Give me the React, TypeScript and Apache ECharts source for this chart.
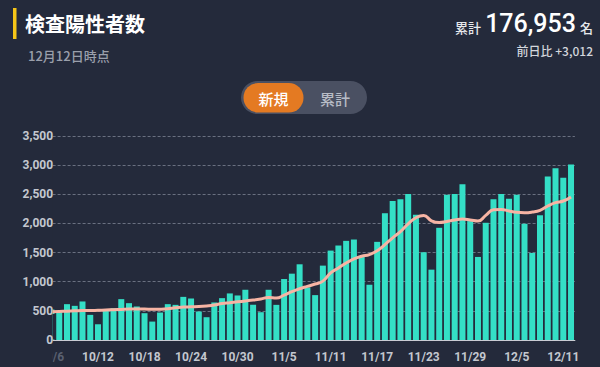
import React, { useEffect, useRef } from "react";
import * as echarts from "echarts";

const dates = [
  "10/6","10/7","10/8","10/9","10/10","10/11","10/12","10/13","10/14","10/15","10/16","10/17","10/18","10/19","10/20","10/21","10/22","10/23","10/24","10/25","10/26","10/27","10/28","10/29","10/30","10/31",
  "11/1","11/2","11/3","11/4","11/5","11/6","11/7","11/8","11/9","11/10","11/11","11/12","11/13","11/14","11/15","11/16","11/17","11/18","11/19","11/20","11/21","11/22","11/23","11/24","11/25","11/26","11/27","11/28","11/29","11/30",
  "12/1","12/2","12/3","12/4","12/5","12/6","12/7","12/8","12/9","12/10","12/11","12/12",
];

const dailyCases = [
  523, 477, 615, 586, 661, 431, 270, 517, 546, 701, 632, 575, 460, 316, 471, 615, 603, 740, 712, 489, 391, 644, 718, 799, 764, 862,
  603, 477, 862, 603, 1046, 1138, 1299, 902, 770, 1276, 1534, 1621, 1701, 1724, 1437, 948, 1684, 2175, 2385, 2414, 2506, 2149, 1506, 1207, 1925, 2494, 2506, 2672, 2040, 1425,
  2011, 2414, 2506, 2425, 2494, 1994, 1494, 2140, 2805, 2948, 2782, 3012,
];

const weeklyAverage = [
  485, 490, 495, 500, 505, 505, 510, 515, 520, 525, 530, 530, 530, 527, 528, 535, 555, 565, 570, 575, 585, 600, 625, 640, 655, 670,
  685, 705, 730, 720, 770, 830, 880, 920, 960, 1010, 1150, 1236, 1320, 1390, 1437, 1466, 1530, 1638, 1753, 1860, 1994, 2098, 2138, 2045, 2015, 2034, 2057, 2075, 2060, 2040,
  2138, 2235, 2241, 2212, 2190, 2184, 2195, 2225, 2299, 2356, 2385, 2455,
];

const yTicks = [0, 500, 1000, 1500, 2000, 2500, 3000, 3500];

const BG = "#242a3b";
const JP = "'Noto Sans CJK JP', 'Noto Sans', sans-serif";
const NUM = "Roboto, 'Noto Sans', sans-serif";

export default function App() {
  const ref = useRef<HTMLDivElement>(null);
  useEffect(() => {
    document.body.style.margin = "0";
    const chart = echarts.init(ref.current!, null, { renderer: "svg" });
    const yMax = yTicks[yTicks.length - 1];
    chart.setOption({
      animation: false,
      backgroundColor: BG,
      grid: { left: 47.6, width: 527.3, top: 136, height: 204 },
      xAxis: {
        type: "category",
        data: dates,
        boundaryGap: true,
        axisTick: { show: false },
        axisLine: { show: true, lineStyle: { color: "#c9ccd3", width: 1 } },
        axisLabel: {
          interval: 5,
          margin: 11,
          fontSize: 12,
          fontWeight: "bold",
          fontFamily: NUM,
          color: (_v: string, i: number) => (i === 0 ? "#5a6070" : "#c3c7cf"),
        },
      },
      yAxis: [
        {
          type: "value",
          min: 0,
          max: yMax,
          interval: 500,
          axisLabel: { show: false },
          axisLine: { show: false },
          axisTick: { show: false },
          splitLine: { show: true, lineStyle: { color: "#6a7080", type: [3, 2], width: 1 } },
        },
        {
          type: "value",
          min: 0,
          max: yMax,
          interval: 500,
          position: "left",
          z: 20,
          axisLine: { show: false },
          axisTick: { show: false },
          splitLine: { show: false },
          axisLabel: {
            margin: -5.5,
            fontSize: 12,
            fontWeight: "bold",
            fontFamily: NUM,
            color: "#c3c7cf",
            formatter: (v: number) => v.toLocaleString("en-US"),
          },
        },
      ],
      series: [
        {
          type: "bar",
          data: dailyCases,
          barWidth: 6,
          itemStyle: { color: "#34dfc6" },
          z: 2,
        },
        {
          type: "line",
          data: weeklyAverage,
          smooth: true,
          symbol: "none",
          lineStyle: { color: "#f7b4a4", width: 3 },
          z: 3,
        },
      ],
      graphic: [
        { type: "rect", z: 10, shape: { x: 0, y: 120, width: 52.5, height: 247 }, style: { fill: BG } },
        { type: "rect", z: 10, shape: { x: 52.5, y: 314, width: 2.5, height: 25.5 }, style: { fill: BG } },
        { type: "rect", z: 30, shape: { x: 13, y: 8, width: 3.5, height: 31 }, style: { fill: "#f5c518" } },
        {
          type: "text", z: 30, x: 25, y: 23,
          style: { text: "検査陽性者数", fill: "#ffffff", font: `bold 20px ${JP}`, textVerticalAlign: "middle" },
        },
        {
          type: "text", z: 30, x: 28, y: 55,
          style: { text: "12月12日時点", fill: "#9a9fab", font: `500 13px ${JP}`, textVerticalAlign: "middle" },
        },
        {
          type: "text", z: 30, x: 593, y: 34,
          style: { text: "名", fill: "#e6e8ec", font: `500 13px ${JP}`, textAlign: "right", textVerticalAlign: "bottom" },
        },
        {
          type: "text", z: 30, x: 576, y: 36,
          style: { text: "176,953", fill: "#ffffff", font: `500 25px ${NUM}`, textAlign: "right", textVerticalAlign: "bottom" },
        },
        {
          type: "text", z: 30, x: 481, y: 34,
          style: { text: "累計", fill: "#e6e8ec", font: `500 13px ${JP}`, textAlign: "right", textVerticalAlign: "bottom" },
        },
        {
          type: "text", z: 30, x: 593, y: 50,
          style: { text: "前日比 +3,012", fill: "#d3d6dc", font: `500 12px ${JP}`, textAlign: "right", textVerticalAlign: "middle" },
        },
        { type: "rect", z: 30, shape: { x: 241, y: 81, width: 126, height: 33, r: 16.5 }, style: { fill: "#4a5062" } },
        { type: "rect", z: 31, shape: { x: 243.5, y: 83, width: 60, height: 29.5, r: 14.75 }, style: { fill: "#e47a22" } },
        {
          type: "text", z: 32, x: 273.5, y: 98,
          style: { text: "新規", fill: "#ffffff", font: `500 15px ${JP}`, textAlign: "center", textVerticalAlign: "middle" },
        },
        {
          type: "text", z: 32, x: 335, y: 98,
          style: { text: "累計", fill: "#b8bcc6", font: `500 15px ${JP}`, textAlign: "center", textVerticalAlign: "middle" },
        },
      ],
    });
    return () => chart.dispose();
  }, []);
  return <div ref={ref} style={{ position: "absolute", left: 0, top: 0, width: 600, height: 367 }} />;
}
